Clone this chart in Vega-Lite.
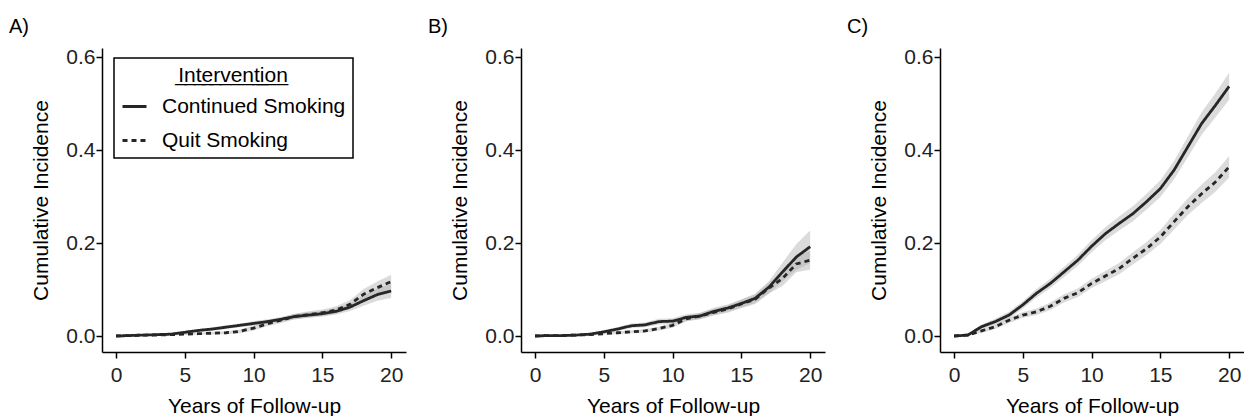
{
  "$schema": "https://vega.github.io/schema/vega-lite/v6.json",
  "padding": {"left": 9, "top": 17, "right": 0, "bottom": 0},
  "spacing": 22,
  "data": {"values": [
    {"panel":"A","arm":"Continued Smoking","year":0,"est":0,"lo":0,"hi":0},
    {"panel":"A","arm":"Continued Smoking","year":1,"est":0.001,"lo":0,"hi":0.002},
    {"panel":"A","arm":"Continued Smoking","year":2,"est":0.002,"lo":0.001,"hi":0.003},
    {"panel":"A","arm":"Continued Smoking","year":3,"est":0.003,"lo":0.001,"hi":0.005},
    {"panel":"A","arm":"Continued Smoking","year":4,"est":0.004,"lo":0.002,"hi":0.006},
    {"panel":"A","arm":"Continued Smoking","year":5,"est":0.008,"lo":0.005,"hi":0.011},
    {"panel":"A","arm":"Continued Smoking","year":6,"est":0.012,"lo":0.009,"hi":0.015},
    {"panel":"A","arm":"Continued Smoking","year":7,"est":0.015,"lo":0.011,"hi":0.019},
    {"panel":"A","arm":"Continued Smoking","year":8,"est":0.019,"lo":0.015,"hi":0.023},
    {"panel":"A","arm":"Continued Smoking","year":9,"est":0.023,"lo":0.019,"hi":0.027},
    {"panel":"A","arm":"Continued Smoking","year":10,"est":0.027,"lo":0.022,"hi":0.032},
    {"panel":"A","arm":"Continued Smoking","year":11,"est":0.031,"lo":0.026,"hi":0.036},
    {"panel":"A","arm":"Continued Smoking","year":12,"est":0.036,"lo":0.031,"hi":0.041},
    {"panel":"A","arm":"Continued Smoking","year":13,"est":0.042,"lo":0.036,"hi":0.048},
    {"panel":"A","arm":"Continued Smoking","year":14,"est":0.045,"lo":0.039,"hi":0.051},
    {"panel":"A","arm":"Continued Smoking","year":15,"est":0.048,"lo":0.042,"hi":0.054},
    {"panel":"A","arm":"Continued Smoking","year":16,"est":0.053,"lo":0.046,"hi":0.060},
    {"panel":"A","arm":"Continued Smoking","year":17,"est":0.062,"lo":0.054,"hi":0.070},
    {"panel":"A","arm":"Continued Smoking","year":18,"est":0.076,"lo":0.065,"hi":0.087},
    {"panel":"A","arm":"Continued Smoking","year":19,"est":0.089,"lo":0.076,"hi":0.102},
    {"panel":"A","arm":"Continued Smoking","year":20,"est":0.097,"lo":0.082,"hi":0.112},
    {"panel":"A","arm":"Quit Smoking","year":0,"est":0,"lo":0,"hi":0},
    {"panel":"A","arm":"Quit Smoking","year":1,"est":0.001,"lo":0,"hi":0.002},
    {"panel":"A","arm":"Quit Smoking","year":2,"est":0.002,"lo":0.001,"hi":0.003},
    {"panel":"A","arm":"Quit Smoking","year":3,"est":0.002,"lo":0.001,"hi":0.003},
    {"panel":"A","arm":"Quit Smoking","year":4,"est":0.003,"lo":0.001,"hi":0.005},
    {"panel":"A","arm":"Quit Smoking","year":5,"est":0.004,"lo":0.002,"hi":0.006},
    {"panel":"A","arm":"Quit Smoking","year":6,"est":0.005,"lo":0.003,"hi":0.007},
    {"panel":"A","arm":"Quit Smoking","year":7,"est":0.006,"lo":0.003,"hi":0.009},
    {"panel":"A","arm":"Quit Smoking","year":8,"est":0.007,"lo":0.004,"hi":0.010},
    {"panel":"A","arm":"Quit Smoking","year":9,"est":0.010,"lo":0.006,"hi":0.014},
    {"panel":"A","arm":"Quit Smoking","year":10,"est":0.017,"lo":0.012,"hi":0.022},
    {"panel":"A","arm":"Quit Smoking","year":11,"est":0.026,"lo":0.021,"hi":0.031},
    {"panel":"A","arm":"Quit Smoking","year":12,"est":0.034,"lo":0.028,"hi":0.040},
    {"panel":"A","arm":"Quit Smoking","year":13,"est":0.042,"lo":0.036,"hi":0.048},
    {"panel":"A","arm":"Quit Smoking","year":14,"est":0.046,"lo":0.039,"hi":0.053},
    {"panel":"A","arm":"Quit Smoking","year":15,"est":0.050,"lo":0.043,"hi":0.057},
    {"panel":"A","arm":"Quit Smoking","year":16,"est":0.056,"lo":0.048,"hi":0.064},
    {"panel":"A","arm":"Quit Smoking","year":17,"est":0.068,"lo":0.059,"hi":0.077},
    {"panel":"A","arm":"Quit Smoking","year":18,"est":0.090,"lo":0.079,"hi":0.101},
    {"panel":"A","arm":"Quit Smoking","year":19,"est":0.104,"lo":0.091,"hi":0.117},
    {"panel":"A","arm":"Quit Smoking","year":20,"est":0.117,"lo":0.102,"hi":0.132},
    {"panel":"B","arm":"Continued Smoking","year":0,"est":0,"lo":0,"hi":0},
    {"panel":"B","arm":"Continued Smoking","year":1,"est":0.001,"lo":0,"hi":0.002},
    {"panel":"B","arm":"Continued Smoking","year":2,"est":0.001,"lo":0,"hi":0.002},
    {"panel":"B","arm":"Continued Smoking","year":3,"est":0.002,"lo":0,"hi":0.004},
    {"panel":"B","arm":"Continued Smoking","year":4,"est":0.004,"lo":0.002,"hi":0.006},
    {"panel":"B","arm":"Continued Smoking","year":5,"est":0.009,"lo":0.006,"hi":0.012},
    {"panel":"B","arm":"Continued Smoking","year":6,"est":0.015,"lo":0.011,"hi":0.019},
    {"panel":"B","arm":"Continued Smoking","year":7,"est":0.022,"lo":0.017,"hi":0.027},
    {"panel":"B","arm":"Continued Smoking","year":8,"est":0.024,"lo":0.019,"hi":0.029},
    {"panel":"B","arm":"Continued Smoking","year":9,"est":0.031,"lo":0.025,"hi":0.037},
    {"panel":"B","arm":"Continued Smoking","year":10,"est":0.032,"lo":0.026,"hi":0.038},
    {"panel":"B","arm":"Continued Smoking","year":11,"est":0.040,"lo":0.033,"hi":0.047},
    {"panel":"B","arm":"Continued Smoking","year":12,"est":0.043,"lo":0.036,"hi":0.050},
    {"panel":"B","arm":"Continued Smoking","year":13,"est":0.053,"lo":0.045,"hi":0.061},
    {"panel":"B","arm":"Continued Smoking","year":14,"est":0.060,"lo":0.052,"hi":0.068},
    {"panel":"B","arm":"Continued Smoking","year":15,"est":0.070,"lo":0.061,"hi":0.079},
    {"panel":"B","arm":"Continued Smoking","year":16,"est":0.081,"lo":0.071,"hi":0.091},
    {"panel":"B","arm":"Continued Smoking","year":17,"est":0.105,"lo":0.092,"hi":0.118},
    {"panel":"B","arm":"Continued Smoking","year":18,"est":0.138,"lo":0.118,"hi":0.158},
    {"panel":"B","arm":"Continued Smoking","year":19,"est":0.170,"lo":0.142,"hi":0.198},
    {"panel":"B","arm":"Continued Smoking","year":20,"est":0.192,"lo":0.157,"hi":0.227},
    {"panel":"B","arm":"Quit Smoking","year":0,"est":0,"lo":0,"hi":0},
    {"panel":"B","arm":"Quit Smoking","year":1,"est":0.001,"lo":0,"hi":0.002},
    {"panel":"B","arm":"Quit Smoking","year":2,"est":0.001,"lo":0,"hi":0.002},
    {"panel":"B","arm":"Quit Smoking","year":3,"est":0.002,"lo":0.001,"hi":0.003},
    {"panel":"B","arm":"Quit Smoking","year":4,"est":0.003,"lo":0.001,"hi":0.005},
    {"panel":"B","arm":"Quit Smoking","year":5,"est":0.005,"lo":0.003,"hi":0.007},
    {"panel":"B","arm":"Quit Smoking","year":6,"est":0.007,"lo":0.004,"hi":0.010},
    {"panel":"B","arm":"Quit Smoking","year":7,"est":0.009,"lo":0.006,"hi":0.012},
    {"panel":"B","arm":"Quit Smoking","year":8,"est":0.011,"lo":0.007,"hi":0.015},
    {"panel":"B","arm":"Quit Smoking","year":9,"est":0.016,"lo":0.012,"hi":0.020},
    {"panel":"B","arm":"Quit Smoking","year":10,"est":0.023,"lo":0.018,"hi":0.028},
    {"panel":"B","arm":"Quit Smoking","year":11,"est":0.037,"lo":0.031,"hi":0.043},
    {"panel":"B","arm":"Quit Smoking","year":12,"est":0.043,"lo":0.036,"hi":0.050},
    {"panel":"B","arm":"Quit Smoking","year":13,"est":0.051,"lo":0.044,"hi":0.058},
    {"panel":"B","arm":"Quit Smoking","year":14,"est":0.058,"lo":0.050,"hi":0.066},
    {"panel":"B","arm":"Quit Smoking","year":15,"est":0.069,"lo":0.060,"hi":0.078},
    {"panel":"B","arm":"Quit Smoking","year":16,"est":0.079,"lo":0.069,"hi":0.089},
    {"panel":"B","arm":"Quit Smoking","year":17,"est":0.103,"lo":0.091,"hi":0.115},
    {"panel":"B","arm":"Quit Smoking","year":18,"est":0.124,"lo":0.108,"hi":0.140},
    {"panel":"B","arm":"Quit Smoking","year":19,"est":0.155,"lo":0.137,"hi":0.173},
    {"panel":"B","arm":"Quit Smoking","year":20,"est":0.163,"lo":0.143,"hi":0.183},
    {"panel":"C","arm":"Continued Smoking","year":0,"est":0,"lo":0,"hi":0},
    {"panel":"C","arm":"Continued Smoking","year":1,"est":0.002,"lo":0,"hi":0.004},
    {"panel":"C","arm":"Continued Smoking","year":2,"est":0.020,"lo":0.015,"hi":0.025},
    {"panel":"C","arm":"Continued Smoking","year":3,"est":0.031,"lo":0.025,"hi":0.037},
    {"panel":"C","arm":"Continued Smoking","year":4,"est":0.045,"lo":0.038,"hi":0.052},
    {"panel":"C","arm":"Continued Smoking","year":5,"est":0.067,"lo":0.059,"hi":0.075},
    {"panel":"C","arm":"Continued Smoking","year":6,"est":0.092,"lo":0.083,"hi":0.101},
    {"panel":"C","arm":"Continued Smoking","year":7,"est":0.113,"lo":0.103,"hi":0.123},
    {"panel":"C","arm":"Continued Smoking","year":8,"est":0.138,"lo":0.127,"hi":0.149},
    {"panel":"C","arm":"Continued Smoking","year":9,"est":0.163,"lo":0.151,"hi":0.175},
    {"panel":"C","arm":"Continued Smoking","year":10,"est":0.193,"lo":0.180,"hi":0.206},
    {"panel":"C","arm":"Continued Smoking","year":11,"est":0.220,"lo":0.206,"hi":0.234},
    {"panel":"C","arm":"Continued Smoking","year":12,"est":0.242,"lo":0.227,"hi":0.257},
    {"panel":"C","arm":"Continued Smoking","year":13,"est":0.263,"lo":0.247,"hi":0.279},
    {"panel":"C","arm":"Continued Smoking","year":14,"est":0.289,"lo":0.272,"hi":0.306},
    {"panel":"C","arm":"Continued Smoking","year":15,"est":0.317,"lo":0.299,"hi":0.335},
    {"panel":"C","arm":"Continued Smoking","year":16,"est":0.357,"lo":0.337,"hi":0.377},
    {"panel":"C","arm":"Continued Smoking","year":17,"est":0.407,"lo":0.385,"hi":0.429},
    {"panel":"C","arm":"Continued Smoking","year":18,"est":0.457,"lo":0.433,"hi":0.481},
    {"panel":"C","arm":"Continued Smoking","year":19,"est":0.496,"lo":0.470,"hi":0.522},
    {"panel":"C","arm":"Continued Smoking","year":20,"est":0.537,"lo":0.508,"hi":0.566},
    {"panel":"C","arm":"Quit Smoking","year":0,"est":0,"lo":0,"hi":0},
    {"panel":"C","arm":"Quit Smoking","year":1,"est":0.002,"lo":0,"hi":0.004},
    {"panel":"C","arm":"Quit Smoking","year":2,"est":0.011,"lo":0.007,"hi":0.015},
    {"panel":"C","arm":"Quit Smoking","year":3,"est":0.020,"lo":0.015,"hi":0.025},
    {"panel":"C","arm":"Quit Smoking","year":4,"est":0.034,"lo":0.028,"hi":0.040},
    {"panel":"C","arm":"Quit Smoking","year":5,"est":0.045,"lo":0.039,"hi":0.051},
    {"panel":"C","arm":"Quit Smoking","year":6,"est":0.052,"lo":0.045,"hi":0.059},
    {"panel":"C","arm":"Quit Smoking","year":7,"est":0.064,"lo":0.056,"hi":0.072},
    {"panel":"C","arm":"Quit Smoking","year":8,"est":0.081,"lo":0.072,"hi":0.090},
    {"panel":"C","arm":"Quit Smoking","year":9,"est":0.093,"lo":0.084,"hi":0.102},
    {"panel":"C","arm":"Quit Smoking","year":10,"est":0.113,"lo":0.103,"hi":0.123},
    {"panel":"C","arm":"Quit Smoking","year":11,"est":0.129,"lo":0.118,"hi":0.140},
    {"panel":"C","arm":"Quit Smoking","year":12,"est":0.145,"lo":0.133,"hi":0.157},
    {"panel":"C","arm":"Quit Smoking","year":13,"est":0.167,"lo":0.154,"hi":0.180},
    {"panel":"C","arm":"Quit Smoking","year":14,"est":0.188,"lo":0.174,"hi":0.202},
    {"panel":"C","arm":"Quit Smoking","year":15,"est":0.213,"lo":0.198,"hi":0.228},
    {"panel":"C","arm":"Quit Smoking","year":16,"est":0.246,"lo":0.229,"hi":0.263},
    {"panel":"C","arm":"Quit Smoking","year":17,"est":0.278,"lo":0.260,"hi":0.296},
    {"panel":"C","arm":"Quit Smoking","year":18,"est":0.306,"lo":0.286,"hi":0.326},
    {"panel":"C","arm":"Quit Smoking","year":19,"est":0.331,"lo":0.310,"hi":0.352},
    {"panel":"C","arm":"Quit Smoking","year":20,"est":0.364,"lo":0.341,"hi":0.387}
  ]},
  "resolve": {"legend": {"strokeDash": "independent"}},
  "hconcat": [
    {
      "width": 304, "height": 304,
      "title": {"text": "A)", "anchor": "start", "frame": "group", "dx": -93, "offset": 9, "fontSize": 20, "fontWeight": "normal", "font": "Liberation Sans", "color": "black"},
      "transform": [{"filter": "datum.panel == 'A'"}],
      "layer": [
        {
          "mark": {"type": "area", "color": "#b0b0b0", "opacity": 0.45},
          "encoding": {
            "x": {"field": "year", "type": "quantitative", "scale": {"domain": [-1.02, 21.08], "nice": false, "zero": false}, "axis": {"title": "Years of Follow-up", "values": [0, 5, 10, 15, 20], "format": "d"}},
            "y": {"field": "lo", "type": "quantitative", "scale": {"domain": [-0.0344, 0.6194], "nice": false, "zero": false}, "axis": {"title": "Cumulative Incidence", "values": [0, 0.2, 0.4, 0.6], "format": ".1f"}},
            "y2": {"field": "hi"},
            "detail": {"field": "arm", "type": "nominal"}
          }
        },
        {
          "mark": {"type": "line", "color": "#262626", "strokeWidth": 2.8},
          "encoding": {
            "x": {"field": "year", "type": "quantitative"},
            "y": {"field": "est", "type": "quantitative"},
            "strokeDash": {"field": "arm", "type": "nominal", "scale": {"domain": ["Continued Smoking", "Quit Smoking"], "range": [[1, 0], [5, 4]]},
              "legend": {"title": "I\u0332n\u0332t\u0332e\u0332r\u0332v\u0332e\u0332n\u0332t\u0332i\u0332o\u0332n\u0332", "orient": "none", "legendX": 12, "legendY": 10}}
          }
        }
      ]
    },
    {
      "width": 304, "height": 304,
      "title": {"text": "B)", "anchor": "start", "frame": "group", "dx": -93, "offset": 9, "fontSize": 20, "fontWeight": "normal", "font": "Liberation Sans", "color": "black"},
      "transform": [{"filter": "datum.panel == 'B'"}],
      "layer": [
        {
          "mark": {"type": "area", "color": "#b0b0b0", "opacity": 0.45},
          "encoding": {
            "x": {"field": "year", "type": "quantitative", "scale": {"domain": [-1.02, 21.08], "nice": false, "zero": false}, "axis": {"title": "Years of Follow-up", "values": [0, 5, 10, 15, 20], "format": "d"}},
            "y": {"field": "lo", "type": "quantitative", "scale": {"domain": [-0.0344, 0.6194], "nice": false, "zero": false}, "axis": {"title": "Cumulative Incidence", "values": [0, 0.2, 0.4, 0.6], "format": ".1f"}},
            "y2": {"field": "hi"},
            "detail": {"field": "arm", "type": "nominal"}
          }
        },
        {
          "mark": {"type": "line", "color": "#262626", "strokeWidth": 2.8},
          "encoding": {
            "x": {"field": "year", "type": "quantitative"},
            "y": {"field": "est", "type": "quantitative"},
            "strokeDash": {"field": "arm", "type": "nominal", "scale": {"domain": ["Continued Smoking", "Quit Smoking"], "range": [[1, 0], [5, 4]]}, "legend": null}
          }
        }
      ]
    },
    {
      "width": 304, "height": 304,
      "title": {"text": "C)", "anchor": "start", "frame": "group", "dx": -93, "offset": 9, "fontSize": 20, "fontWeight": "normal", "font": "Liberation Sans", "color": "black"},
      "transform": [{"filter": "datum.panel == 'C'"}],
      "layer": [
        {
          "mark": {"type": "area", "color": "#b0b0b0", "opacity": 0.45},
          "encoding": {
            "x": {"field": "year", "type": "quantitative", "scale": {"domain": [-1.02, 21.08], "nice": false, "zero": false}, "axis": {"title": "Years of Follow-up", "values": [0, 5, 10, 15, 20], "format": "d"}},
            "y": {"field": "lo", "type": "quantitative", "scale": {"domain": [-0.0344, 0.6194], "nice": false, "zero": false}, "axis": {"title": "Cumulative Incidence", "values": [0, 0.2, 0.4, 0.6], "format": ".1f"}},
            "y2": {"field": "hi"},
            "detail": {"field": "arm", "type": "nominal"}
          }
        },
        {
          "mark": {"type": "line", "color": "#262626", "strokeWidth": 2.8},
          "encoding": {
            "x": {"field": "year", "type": "quantitative"},
            "y": {"field": "est", "type": "quantitative"},
            "strokeDash": {"field": "arm", "type": "nominal", "scale": {"domain": ["Continued Smoking", "Quit Smoking"], "range": [[1, 0], [5, 4]]}, "legend": null}
          }
        }
      ]
    }
  ],
  "config": {
    "font": "Liberation Sans",
    "background": "white",
    "view": {"stroke": null},
    "axis": {"grid": false, "domainColor": "black", "domainWidth": 1.5, "tickColor": "black", "tickWidth": 1.5, "tickSize": 6, "labelFontSize": 21, "labelColor": "#222222", "labelFont": "Liberation Sans", "titleFontSize": 21, "titleFontWeight": "normal", "titleColor": "black", "titleFont": "Liberation Sans"},
    "axisX": {"labelPadding": 6, "titlePadding": 10},
    "axisY": {"labelPadding": 1, "titlePadding": 14},
    "legend": {"strokeColor": "black", "strokeWidth": 1.5, "fillColor": "white", "padding": 7, "titleFontSize": 21, "titleFontWeight": "normal", "titleColor": "black", "titleAnchor": "middle", "titlePadding": 7, "labelFontSize": 21, "labelColor": "black", "labelLimit": 400, "labelOffset": 14, "rowPadding": 10, "symbolSize": 576, "symbolStrokeWidth": 2.8, "symbolStrokeColor": "#262626", "symbolType": "stroke"}
  }
}
